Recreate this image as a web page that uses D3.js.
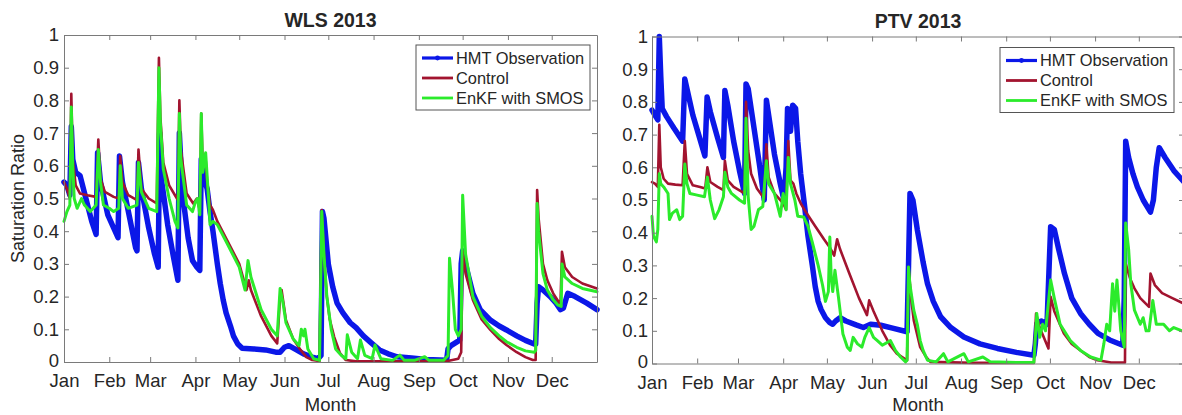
<!DOCTYPE html>
<html><head><meta charset="utf-8">
<script src="https://cdn.jsdelivr.net/npm/d3@7"></script>
<style>
body{margin:0;background:#fff}
svg{display:block}
text{font-family:"Liberation Sans",Arial,Helvetica,sans-serif;fill:#262626}
</style>
</head><body>
<svg id="chart" width="1182" height="415"></svg>
<script>
// ---------- data ----------
const monthLabels = ["Jan","Feb","Mar","Apr","May","Jun","Jul","Aug","Sep","Oct","Nov","Dec"];
const yTickValues = [0,0.1,0.2,0.3,0.4,0.5,0.6,0.7,0.8,0.9,1];
const seriesNames = ["HMT Observation","Control","EnKF with SMOS"];
const panelTitles = ["WLS 2013","PTV 2013"];
const xLabel = "Month";
const yLabel = "Saturation Ratio";

// [day of year 2013 (0 = Jan 1), saturation ratio]
const wlsObs = [[0,0.55],[2,0.54],[4,0.51],[5,0.72],[6,0.62],[8,0.58],[11,0.57],[15,0.5],[19,0.43],[22,0.39],[23,0.64],[25,0.55],[30,0.45],[34,0.41],[37,0.38],[38,0.63],[40,0.55],[45,0.44],[49,0.35],[50,0.34],[51,0.61],[53,0.53],[58,0.41],[62,0.33],[64.5,0.29],[65.5,0.7],[67,0.55],[71,0.42],[75,0.32],[78,0.25],[79,0.7],[81,0.52],[85,0.38],[88,0.31],[91,0.29],[93,0.28],[94,0.62],[96,0.56],[98,0.53],[100,0.46],[102,0.4],[105,0.3],[107,0.24],[109,0.19],[111,0.15],[114,0.11],[116,0.08],[119,0.055],[122,0.042],[130,0.04],[138,0.037],[145,0.03],[148,0.03],[151,0.045],[154,0.05],[158,0.04],[164,0.025],[170,0.015],[174,0.01],[176,0.02],[177,0.46],[178,0.44],[181,0.3],[184,0.23],[187,0.18],[191,0.15],[196,0.12],[200,0.105],[205,0.08],[210,0.06],[216,0.037],[222,0.025],[228,0.016],[238,0.012],[248,0.008],[262,0.005],[263,0.04],[265,0.05],[271,0.067],[272,0.3],[273,0.34],[276,0.28],[280,0.21],[285,0.16],[292,0.128],[298,0.11],[303,0.098],[310,0.08],[316,0.066],[322,0.055],[323,0.055],[324,0.18],[325,0.23],[328,0.22],[333,0.2],[337,0.18],[340,0.16],[342,0.165],[345,0.21],[350,0.2],[358,0.18],[365,0.16]];
const wlsControl = [[0,0.55],[2,0.53],[4,0.5],[5,0.82],[6,0.62],[8,0.54],[11,0.515],[16,0.51],[22,0.505],[23.5,0.68],[25,0.56],[28,0.52],[34,0.505],[37.5,0.5],[38.5,0.63],[40,0.55],[44,0.51],[50,0.495],[51,0.65],[53,0.53],[58,0.5],[63.5,0.485],[65,0.93],[66,0.75],[68,0.61],[72,0.54],[76,0.51],[78,0.495],[79,0.8],[80,0.65],[84,0.515],[88.5,0.485],[91,0.5],[93,0.465],[94,0.76],[95,0.6],[97,0.62],[98,0.55],[100,0.48],[102,0.465],[105,0.43],[112,0.37],[120,0.3],[125,0.22],[126.5,0.25],[128,0.22],[135,0.14],[142,0.08],[146,0.057],[148,0.2],[149,0.22],[152,0.128],[157,0.07],[162,0.037],[166,0.015],[170,0.006],[175,0.003],[176.5,0.465],[178,0.33],[180,0.2],[182,0.13],[185,0.077],[189,0.027],[193,0.006],[200,0.002],[262,0.002],[270,0.01],[272,0.03],[273,0.34],[275,0.27],[280,0.19],[286,0.13],[292,0.098],[298,0.07],[303,0.052],[310,0.03],[316,0.015],[321,0.006],[323,0.006],[324,0.526],[325,0.44],[328,0.3],[331,0.25],[335,0.21],[340,0.175],[341,0.337],[343,0.29],[348,0.26],[355,0.24],[365,0.225]];
const wlsEnkf = [[0,0.43],[2,0.46],[4,0.48],[5,0.78],[6,0.6],[7,0.5],[9,0.47],[12,0.5],[14,0.48],[18,0.46],[22,0.48],[23.5,0.65],[25,0.55],[27,0.48],[31,0.47],[34,0.46],[37.5,0.47],[38.5,0.6],[40,0.5],[44,0.47],[50,0.48],[51,0.61],[53,0.52],[58,0.47],[63.5,0.46],[65,0.9],[66,0.73],[68,0.59],[72,0.5],[76,0.43],[78,0.41],[79,0.76],[80,0.62],[84,0.48],[88,0.46],[90,0.49],[91.5,0.5],[93,0.45],[94,0.76],[95,0.58],[97,0.64],[99,0.5],[100,0.42],[102,0.43],[105,0.42],[112,0.36],[120,0.29],[124,0.22],[126,0.31],[128,0.26],[135,0.16],[142,0.1],[146,0.08],[148,0.225],[150,0.18],[152,0.12],[157,0.07],[161,0.05],[162.5,0.1],[164,0.08],[165,0.1],[167,0.04],[171,0.01],[175,0.005],[176.5,0.46],[178,0.33],[180,0.2],[183,0.1],[186,0.04],[190,0.02],[193,0.01],[194,0.083],[197,0.03],[201,0.01],[203,0.067],[206,0.02],[211,0.01],[213,0.052],[217,0.01],[225,0.005],[230,0.021],[233,0.005],[240,0.005],[247,0.016],[250,0.005],[260,0.005],[263,0.02],[264,0.317],[266,0.22],[268,0.1],[270,0.08],[272,0.1],[273,0.51],[275,0.33],[280,0.2],[286,0.14],[292,0.105],[298,0.08],[303,0.062],[310,0.045],[316,0.034],[322,0.03],[323,0.035],[324,0.485],[325,0.4],[328,0.27],[331,0.22],[335,0.19],[338,0.175],[340.5,0.17],[341,0.3],[343,0.26],[348,0.24],[355,0.225],[365,0.215]];

const ptvObs = [[0,0.775],[2,0.76],[4,0.745],[5,1.0],[6,0.88],[7,0.78],[10,0.755],[15,0.72],[21,0.68],[22.5,0.87],[24,0.84],[28,0.76],[32,0.7],[36.3,0.635],[37.8,0.815],[40,0.77],[45,0.69],[49,0.63],[50,0.835],[52,0.79],[56,0.68],[60,0.59],[63.5,0.52],[64.5,0.855],[66,0.84],[70,0.72],[74,0.6],[77,0.5],[78.5,0.805],[80,0.76],[84,0.64],[88,0.55],[90.5,0.5],[92,0.6],[93,0.78],[95,0.71],[96.5,0.79],[98.5,0.78],[100,0.68],[102,0.58],[105,0.47],[107,0.39],[110,0.3],[112,0.235],[114,0.19],[116,0.165],[119,0.14],[122,0.125],[124,0.12],[126,0.13],[129,0.14],[133,0.13],[140,0.118],[145,0.11],[150,0.12],[157,0.117],[165,0.108],[175,0.097],[176,0.3],[177,0.52],[179,0.5],[182,0.41],[186,0.31],[189,0.244],[193,0.19],[198,0.143],[205,0.11],[214,0.081],[225,0.06],[237,0.046],[250,0.034],[262,0.025],[263,0.06],[264,0.122],[267,0.13],[271,0.12],[272.5,0.3],[273.5,0.418],[276,0.41],[279,0.35],[283,0.275],[288,0.2],[294,0.153],[300,0.12],[306,0.092],[314,0.072],[323,0.056],[324,0.2],[325,0.68],[327,0.63],[330,0.58],[333,0.54],[337,0.5],[342,0.463],[344,0.5],[346,0.6],[348,0.66],[352,0.63],[358,0.59],[365,0.555]];
const ptvControl = [[0,0.555],[2,0.55],[4,0.54],[5,0.73],[6,0.6],[8,0.565],[11,0.55],[16,0.547],[21,0.545],[22.5,0.68],[24,0.58],[28,0.545],[33,0.54],[36.5,0.535],[38,0.6],[40,0.555],[45,0.54],[49,0.53],[50,0.62],[52,0.56],[56,0.54],[63.5,0.52],[64.5,0.8],[66,0.65],[68,0.58],[72,0.535],[77,0.505],[78.5,0.67],[80,0.57],[84,0.52],[90,0.49],[92,0.47],[93.5,0.68],[95,0.56],[97,0.55],[99,0.52],[102,0.49],[106,0.46],[112,0.42],[118,0.38],[122,0.355],[125,0.33],[127,0.38],[129,0.35],[135,0.28],[142,0.2],[147.5,0.148],[149,0.193],[152,0.16],[158,0.1],[163.5,0.055],[168,0.03],[175,0.01],[176,0.295],[178,0.19],[179.6,0.132],[184,0.05],[188,0.02],[191,0.005],[220,0.002],[262,0.002],[263.5,0.153],[266,0.11],[272,0.046],[273.5,0.204],[276,0.16],[282.6,0.092],[288,0.06],[294,0.04],[300,0.02],[305.6,0.01],[315,0.003],[324.5,0.003],[325,0.305],[328,0.26],[331,0.23],[335,0.2],[341,0.173],[342,0.275],[345,0.24],[350,0.215],[357,0.2],[365,0.183]];
const ptvEnkf = [[0,0.45],[1,0.39],[3,0.372],[4,0.41],[5,0.58],[6,0.55],[8,0.54],[11,0.52],[12,0.44],[14,0.46],[17,0.47],[19,0.44],[21,0.45],[22.5,0.61],[24,0.55],[26,0.52],[31,0.515],[36,0.51],[38,0.57],[40,0.5],[43,0.443],[46,0.47],[49,0.51],[50,0.585],[52,0.54],[54.5,0.52],[60,0.5],[63.5,0.49],[64.5,0.75],[66,0.51],[68,0.41],[70,0.42],[73,0.47],[76,0.48],[78.5,0.62],[80,0.55],[84,0.52],[88,0.45],[90,0.52],[92,0.47],[93.5,0.63],[95,0.55],[98,0.5],[100,0.45],[104,0.448],[107,0.42],[110,0.37],[114,0.3],[117,0.24],[119,0.19],[121,0.22],[122,0.387],[123,0.26],[124,0.22],[125.5,0.285],[128,0.2],[131,0.09],[134,0.05],[136,0.04],[138,0.08],[141,0.06],[144,0.05],[146,0.08],[149,0.11],[152,0.08],[154.6,0.07],[158,0.056],[163.6,0.07],[167,0.04],[170.5,0.02],[174,0.005],[175,0.01],[176,0.295],[177,0.24],[179.6,0.163],[182,0.12],[184,0.07],[186,0.04],[189,0.01],[195,0.005],[200,0.03],[203,0.005],[214,0.03],[217,0.005],[227,0.02],[232,0.005],[250,0.003],[262,0.003],[264,0.153],[266,0.08],[268,0.12],[270,0.1],[273.5,0.255],[276,0.2],[280,0.12],[287,0.07],[294,0.04],[301,0.02],[308,0.01],[310,0.06],[312,0.12],[314,0.1],[316,0.244],[317.5,0.16],[319,0.255],[321.6,0.1],[324,0.05],[325,0.43],[327,0.35],[328.5,0.244],[331,0.163],[335,0.12],[337,0.14],[339,0.1],[341,0.1],[343.6,0.193],[346,0.12],[351,0.12],[355,0.1],[358,0.11],[365,0.097]];

// ---------- drawing ----------
const colors = ["#0b17e8","#a2142f","#2beb2b"];
const widths = [5.5,2.6,3];
const start = new Date(2013,0,1), end = new Date(2014,0,1);
const toDate = d => new Date(start.getTime() + d*86400000);
const monthTicks = monthLabels.map((m,i) => new Date(2013,i,1));

const svg = d3.select("#chart");

const panels = [
  {title:panelTitles[0], x0:64, x1:597, y0:35, y1:362, data:[wlsObs,wlsControl,wlsEnkf], lg:[416,45], labGap:4, titleY:26.5, yLab:true},
  {title:panelTitles[1], x0:652, x1:1184, y0:36.5, y1:363.5, data:[ptvObs,ptvControl,ptvEnkf], lg:[1000,47.5], labGap:3, titleY:28, yLab:false}
];

panels.forEach(p => {
  const x = d3.scaleTime().domain([start,end]).range([p.x0,p.x1]);
  const y = d3.scaleLinear().domain([0,1]).range([p.y1,p.y0]);
  const g = svg.append("g");

  // series
  const line = d3.line().x(d => x(toDate(d[0]))).y(d => y(d[1]));
  p.data.forEach((s,i) => {
    g.append("path").datum(s).attr("d",line)
      .attr("fill","none").attr("stroke",colors[i]).attr("stroke-width",widths[i])
      .attr("stroke-linejoin","round").attr("stroke-linecap","round");
  });

  // axes (box, inward ticks)
  const axCol = "#7a7a7a";
  const fmtY = d3.format(".1~f");
  const bottom = g.append("g").attr("transform",`translate(0,${p.y1})`)
    .call(d3.axisBottom(x).tickValues(monthTicks).tickSizeInner(-5).tickSizeOuter(0)
      .tickFormat((d,i) => monthLabels[i]).tickPadding(12));
  const top = g.append("g").attr("transform",`translate(0,${p.y0})`)
    .call(d3.axisTop(x).tickValues(monthTicks).tickSizeInner(-5).tickSizeOuter(0).tickFormat(""));
  const left = g.append("g").attr("transform",`translate(${p.x0},0)`)
    .call(d3.axisLeft(y).tickValues(yTickValues).tickSizeInner(-5).tickSizeOuter(0).tickFormat(fmtY).tickPadding(p.labGap+1));
  const right = g.append("g").attr("transform",`translate(${p.x1},0)`)
    .call(d3.axisRight(y).tickValues(yTickValues).tickSizeInner(-5).tickSizeOuter(0).tickFormat(""));
  [bottom,top,left,right].forEach(a => {
    a.select(".domain").attr("stroke",axCol).attr("stroke-width",1);
    a.selectAll(".tick line").attr("stroke",axCol);
    a.selectAll("text").attr("font-size","18.5px").attr("fill","#262626").style("font-family","Liberation Sans, Arial, sans-serif");
  });
  bottom.selectAll("text").attr("dy","0.71em");
  // lift the "0" label a touch so it does not collide with "Jan"
  left.selectAll(".tick text").filter(d => d === 0).attr("dy","0.22em");

  // title
  g.append("text").attr("x",(p.x0+p.x1)/2).attr("y",p.titleY).attr("text-anchor","middle")
    .attr("font-weight","bold").attr("font-size","19.5px").attr("fill","#111").text(p.title);
  // x label
  g.append("text").attr("x",(p.x0+p.x1)/2).attr("y",411).attr("text-anchor","middle")
    .attr("font-size","18.5px").text(xLabel);
  if (p.yLab) {
    g.append("text").attr("transform",`translate(24,${(p.y0+p.y1)/2}) rotate(-90)`)
      .attr("text-anchor","middle").attr("font-size","18px").text(yLabel);
  }

  // legend
  const [lx,ly] = p.lg;
  const lg = g.append("g").attr("transform",`translate(${lx},${ly})`);
  lg.append("rect").attr("x",0).attr("y",0).attr("width",174).attr("height",65)
    .attr("fill","#fff").attr("stroke","#555").attr("stroke-width",1);
  seriesNames.forEach((n,i) => {
    const by = 18.5 + i*20;
    lg.append("line").attr("x1",6).attr("x2",37).attr("y1",by-5.5).attr("y2",by-5.5)
      .attr("stroke",colors[i]).attr("stroke-width",i===0?3.2:2.8);
    if (i===0) lg.append("circle").attr("cx",21.5).attr("cy",by-5.5).attr("r",2.4).attr("fill",colors[0]);
    lg.append("text").attr("x",40).attr("y",by).attr("font-size","16.4px").attr("fill","#111").text(n);
  });
});
</script>
</body></html>
